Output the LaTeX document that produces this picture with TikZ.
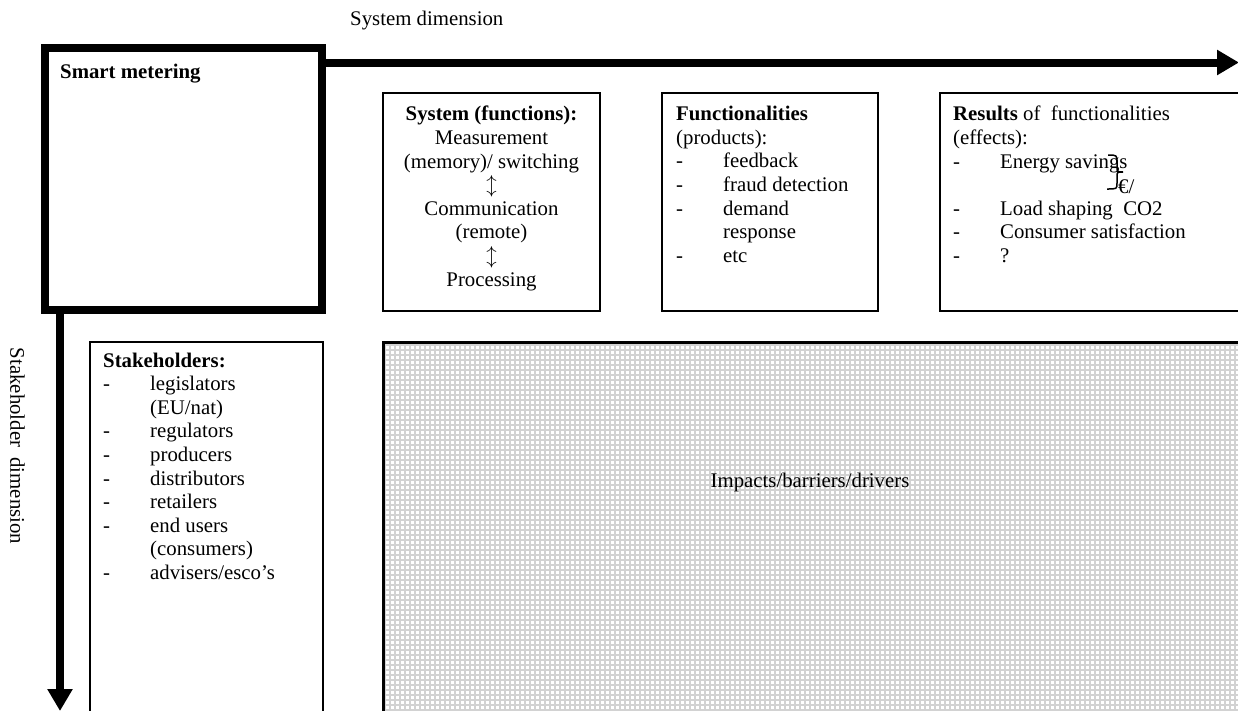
\documentclass[tikz,border=0pt]{standalone}
\usepackage{fontspec}
\setmainfont{Liberation Serif}
\usepackage{tikz}
\usetikzlibrary{arrows.meta,positioning}
\newcommand{\dashitem}[1]{\makebox[47pt][l]{-}#1}
\newcommand{\contitem}[1]{\hspace*{47pt}#1}
\tikzset{
  panel/.style={draw, line width=1.6pt, inner sep=0pt, outer sep=0pt},
  bigpanel/.style={panel, line width=8pt},
  txt/.style={inner sep=0pt, align=left, font=\fontsize{20.8}{23.6}\selectfont},
  ctxt/.style={txt, align=center},
  dimarr/.style={line width=8pt, -{Triangle[length=22pt,width=24pt]}},
  gridfill/.style={gray!35, line width=1.8pt}
}

\begin{document}
\begin{tikzpicture}[x=1pt, y=-1pt]
\useasboundingbox (0,0) rectangle (1238,710);
\clip (0,0) rectangle (1238,710);

\node[bigpanel, minimum width=277pt, minimum height=262pt, anchor=north west] (smart) at (45,48) {};
\node[txt, anchor=north west] (smarttxt) at ([xshift=15pt,yshift=-16pt]smart.north west) {\textbf{Smart metering}};

% system dimension
\coordinate (sysend) at (1239,62.5);
\draw[dimarr] (smart.east |- sysend) -- (sysend);
\node[txt, anchor=base west] (sysdim) at (350,25) {System dimension};

% stakeholder dimension
\coordinate (stakeend) at (60,711);
\draw[dimarr] (smart.south -| stakeend) -- (stakeend);
\node[txt, rotate=-90] (stakedim) at (17.5,446) {Stakeholder\ \ dimension};

\node[panel, minimum width=217pt, minimum height=218pt, anchor=north west] (sysbox) at (383,93) {};
\node[panel, minimum width=216pt, minimum height=218pt, right=62pt of sysbox] (funcbox) {};
\node[panel, minimum width=320pt, minimum height=218pt, right=62pt of funcbox] (resbox) {};

\node[ctxt, anchor=north] (systxt) at ([yshift=-13pt]sysbox.north) {\textbf{System (functions):}\\
  Measurement\\ (memory)/ switching\\ $\updownarrow$\\ Communication\\ (remote)\\ $\updownarrow$\\ Processing};
\node[txt, anchor=north west] (functxt) at ([xshift=14pt,yshift=-13pt]funcbox.north west) {\textbf{Functionalities}\\
  (products):\\ \dashitem{feedback}\\ \dashitem{fraud detection}\\ \dashitem{demand}\\ \contitem{response}\\ \dashitem{etc}};
\node[txt, anchor=north west] (restxt) at ([xshift=13pt,yshift=-13pt]resbox.north west) {\textbf{Results} of\ \ functionalities\\
  (effects):\\ \dashitem{Energy savings}\\ \mbox{}\\ \dashitem{Load shaping\ \ CO2}\\ \dashitem{Consumer satisfaction}\\ \dashitem{?}};
\draw[line width=1.5pt] (1108,155) .. controls (1117,155) .. (1117,163) -- (1117,167)
  .. controls (1117,172) .. (1123,172) .. controls (1117,172) .. (1117,177) -- (1117,183)
  .. controls (1117,189) .. (1107,189);
\node[txt, anchor=base west] (euro) at (1118,193) {€/};

\node[panel, minimum width=233pt, minimum height=400pt, anchor=north west] (stakebox) at (90,342) {};
\node[txt, anchor=north west] (staketxt) at ([xshift=13pt,yshift=-10.5pt]stakebox.north west) {\textbf{Stakeholders:}\\
  \dashitem{legislators}\\ \contitem{(EU/nat)}\\ \dashitem{regulators}\\ \dashitem{producers}\\ \dashitem{distributors}\\
  \dashitem{retailers}\\ \dashitem{end users}\\ \contitem{(consumers)}\\ \dashitem{advisers/esco’s}};

\draw[gridfill] (383,712) grid[step=5pt] (1240,342);
\node[panel, line width=3pt, minimum width=880pt, minimum height=400pt, anchor=north west] (impact) at (383,342) {};
\node[txt] (imptxt) at (810,482) {Impacts/barriers/drivers};
\end{tikzpicture}
\end{document}
